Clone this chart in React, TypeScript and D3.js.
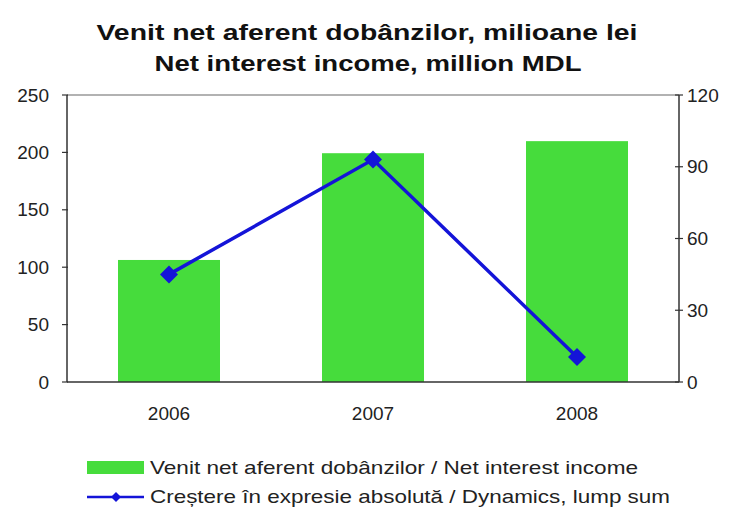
import React from "react";
import * as d3 from "d3";

const years = ["2006", "2007", "2008"];
const netInterest = [106.3, 199.3, 209.8];
const dynamics = [45, 93, 10.5];
const leftTicks = [0, 50, 100, 150, 200, 250];
const rightTicks = [0, 30, 60, 90, 120];
const titleLines = ["Venit net aferent dobânzilor, milioane lei", "Net interest income, million MDL"];
const legendLabels = [
  "Venit net aferent dobânzilor / Net interest income",
  "Creștere în expresie absolută / Dynamics, lump sum",
];

const W = 733, H = 507;
const L = 67, R = 679, T = 95, B = 382;
const GREEN = "#46dc3c";
const BLUE = "#1414d8";
const FONT = "'Liberation Sans', Arial, sans-serif";

export default function App() {
  const x = d3.scaleBand<string>().domain(years).range([L, R]).paddingInner(0.5).paddingOuter(0.25);
  const yL = d3.scaleLinear().domain([0, 250]).range([B, T]);
  const yR = d3.scaleLinear().domain([0, 120]).range([B, T]);
  const cx = (d: string) => (x(d) as number) + x.bandwidth() / 2;
  const line = d3.line<number>().x((_, i) => cx(years[i])).y((d) => yR(d));
  const diamond = (px: number, py: number, r: number) =>
    `M${px},${py - r}L${px + r},${py}L${px},${py + r}L${px - r},${py}Z`;

  return (
    <svg width={W} height={H} style={{ position: "absolute", left: 0, top: 0, background: "#fff" }} fontFamily={FONT}>
      <rect x={0} y={0} width={W} height={H} fill="#fff" />
      {/* title */}
      <text x={367} y={40} textAnchor="middle" fontSize={22} fontWeight="bold" fill="#111" textLength={541} lengthAdjust="spacingAndGlyphs">{titleLines[0]}</text>
      <text x={368} y={71} textAnchor="middle" fontSize={22} fontWeight="bold" fill="#111" textLength={427} lengthAdjust="spacingAndGlyphs">{titleLines[1]}</text>

      {/* top border */}
      <line x1={L} x2={R} y1={T} y2={T} stroke="#999" strokeWidth={1.5} />

      {/* bars */}
      {years.map((yr, i) => (
        <rect key={yr} x={x(yr)} y={yL(netInterest[i])} width={x.bandwidth()} height={B - yL(netInterest[i])} fill={GREEN} />
      ))}

      {/* axes */}
      <line x1={L} x2={L} y1={T} y2={B} stroke="#333" strokeWidth={1.5} />
      <line x1={R} x2={R} y1={T} y2={B} stroke="#333" strokeWidth={1.5} />
      <line x1={L} x2={R} y1={B} y2={B} stroke="#333" strokeWidth={1.5} />
      {leftTicks.map((t) => (
        <g key={"l" + t}>
          <line x1={L - 5} x2={L + 1} y1={yL(t)} y2={yL(t)} stroke="#333" strokeWidth={1.2} />
          <text x={49} y={yL(t)} dy="0.35em" textAnchor="end" fontSize={19} fill="#222">{t}</text>
        </g>
      ))}
      {rightTicks.map((t) => (
        <g key={"r" + t}>
          <line x1={R - 4} x2={R + 4} y1={yR(t)} y2={yR(t)} stroke="#333" strokeWidth={1.2} />
          <text x={687} y={yR(t)} dy="0.35em" textAnchor="start" fontSize={19} fill="#222">{t}</text>
        </g>
      ))}
      {years.map((yr) => (
        <text key={"x" + yr} x={cx(yr)} y={420} textAnchor="middle" fontSize={19} fill="#222">{yr}</text>
      ))}

      {/* line series */}
      <path d={line(dynamics) || ""} fill="none" stroke={BLUE} strokeWidth={3.5} />
      {dynamics.map((v, i) => (
        <path key={"m" + i} d={diamond(cx(years[i]), yR(v), 9)} fill={BLUE} />
      ))}

      {/* legend */}
      <rect x={87} y={461} width={57} height={13} fill={GREEN} />
      <text x={150} y={474} fontSize={19} fill="#222" textLength={488} lengthAdjust="spacingAndGlyphs">{legendLabels[0]}</text>
      <line x1={87} x2={144} y1={497} y2={497} stroke={BLUE} strokeWidth={2.5} />
      <path d={diamond(116, 497, 5)} fill={BLUE} />
      <text x={150} y={503} fontSize={19} fill="#222" textLength={520} lengthAdjust="spacingAndGlyphs">{legendLabels[1]}</text>
    </svg>
  );
}
